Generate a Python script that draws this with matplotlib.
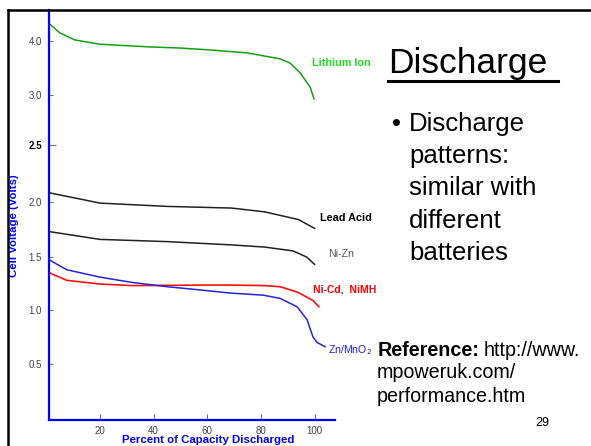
import numpy as np
import matplotlib
matplotlib.use("Agg")
import matplotlib.pyplot as plt
from matplotlib.lines import Line2D

plt.rcParams['font.family'] = ['Liberation Sans', 'DejaVu Sans']

# ---- data (percent discharged, cell volts) ----
li_pct = [1.3, 5, 10.6, 20, 38.6, 49.8, 62.1, 74.8, 87.1, 90.9, 94.6, 98.3, 99.8]
li_v = [4.31, 4.15, 4.02, 3.94, 3.89, 3.87, 3.83, 3.78, 3.67, 3.59, 3.41, 3.15, 2.96]

pb_pct = [1.3, 20, 45, 69, 81.5, 94, 100]
pb_v = [2.08, 1.99, 1.96, 1.945, 1.91, 1.84, 1.76]

nizn_pct = [1.3, 20, 45, 69, 81.5, 92, 97, 100]
nizn_v = [1.73, 1.66, 1.64, 1.61, 1.59, 1.555, 1.50, 1.43]

nicd_pct = [1.3, 7.6, 20, 32, 57, 68.5, 81.5, 87.1, 93.5, 99.4, 101.6]
nicd_v = [1.35, 1.28, 1.245, 1.23, 1.235, 1.235, 1.23, 1.22, 1.17, 1.09, 1.03]

zn_pct = [1.3, 7.6, 20, 32, 45, 57, 68.5, 80.8, 87.1, 93.5, 97.2, 99.4, 100.9, 103.9]
zn_v = [1.47, 1.38, 1.31, 1.26, 1.22, 1.19, 1.16, 1.14, 1.11, 1.03, 0.91, 0.75, 0.70, 0.66]

y_ticks = [0.5, 1.0, 1.5, 2.0, 2.5, 3.0, 4.0]
x_ticks = [20, 40, 60, 80, 100]

# the original axis is not linear above 2.5 V
knot_v = [-1.0, -0.02, 0.5, 1.0, 1.5, 2.0, 2.5, 3.0, 4.0, 4.57, 6.0]
knot_p = [-108, 0, 56, 110, 163, 218, 275, 325, 379, 410, 488]


def fwd(v):
    return np.interp(v, knot_v, knot_p)


def inv(p):
    return np.interp(p, knot_p, knot_v)


W, H = 591, 446
fig = plt.figure(figsize=(W / 100, H / 100), dpi=100)


def fx(px):
    return px / W


def fy(py):
    return 1 - py / H


# slide frame
fig.add_artist(Line2D([fx(8), fx(591)], [fy(10), fy(10)], lw=1.8, color='black'))
fig.add_artist(Line2D([fx(8), fx(8)], [fy(10), fy(446)], lw=1.8, color='black'))

ax = fig.add_axes([fx(49), fy(420), (335 - 49) / W, (420 - 10) / H])
ax.set_yscale('function', functions=(fwd, inv))
ax.set_xlim(1, 107.6)
ax.set_ylim(-0.02, 4.57)
ax.patch.set_alpha(0)

for s in ['top', 'right']:
    ax.spines[s].set_visible(False)
for s in ['left', 'bottom']:
    ax.spines[s].set_color('#0000ff')
    ax.spines[s].set_linewidth(1.6)

ax.plot(li_pct, li_v, color='#14a014', lw=1.1)
ax.plot(pb_pct, pb_v, color='#222222', lw=1.1)
ax.plot(nizn_pct, nizn_v, color='#222222', lw=1.1)
ax.plot(nicd_pct, nicd_v, color='#ff1010', lw=1.2)
ax.plot(zn_pct, zn_v, color='#2424d8', lw=1.1)

ax.set_yticks(y_ticks)
ax.set_yticklabels([f"{v:.1f}" for v in y_ticks])
ax.yaxis.set_minor_locator(matplotlib.ticker.NullLocator())
ax.tick_params(axis='y', direction='in', length=3, width=0.8, color='#777777',
               labelsize=7, labelcolor='#444444', pad=5)
for lbl, tl in zip(ax.get_yticklabels(), ax.yaxis.get_major_ticks()):
    if lbl.get_text() == '2.5':
        lbl.set_color('black')
        lbl.set_fontweight('bold')
        tl.tick1line.set_color('black')
        tl.tick1line.set_markersize(5)

ax.set_xticks(x_ticks)
ax.tick_params(axis='x', direction='in', length=4, width=0.6, color='#555555',
               labelsize=7, labelcolor='#444444', pad=4)

ax.set_xlabel('Percent of Capacity Discharged', color='#0000ff', fontsize=8.2,
              fontweight='bold')
ax.xaxis.set_label_coords(0.556, -0.036)
ax.set_ylabel('Cell Voltage (Volts)', color='#0000ff', fontsize=8.2,
              fontweight='bold')
ax.yaxis.set_label_coords(-0.105, 0.473)

# curve labels
fig.text(fx(312), fy(63), 'Lithium Ion', color='#22dd22', fontsize=7.8,
         fontweight='bold', va='center')
fig.text(fx(320), fy(218), 'Lead Acid', color='black', fontsize=7.8,
         fontweight='bold', va='center')
fig.text(fx(328), fy(254), 'Ni-Zn', color='#555555', fontsize=7.6, va='center')
fig.text(fx(313), fy(289), 'Ni-Cd,  NiMH', color='#ff0000', fontsize=7.5,
         fontweight='bold', va='center')
fig.text(fx(328), fy(350), 'Zn/MnO$_2$', color='#2020e0', fontsize=7.6, va='center')

# slide text
fig.text(fx(388), fy(63), 'Discharge', fontsize=25.5, va='center', color='black')
fig.add_artist(Line2D([fx(388), fx(558)], [fy(81), fy(81)], lw=2.2, color='black'))

fig.text(fx(392), fy(124), '\u2022', fontsize=18.5, va='center')
bullet = ['Discharge', 'patterns:', 'similar with', 'different', 'batteries']
for i, line in enumerate(bullet):
    fig.text(fx(409), fy(124 + 32.2 * i), line, fontsize=18.5, va='center')

fig.text(fx(378), fy(350), 'Reference:', fontsize=14.2, fontweight='bold', va='center')
fig.text(fx(484), fy(350), 'http://www.', fontsize=14.2, va='center')
fig.text(fx(377), fy(373), 'mpoweruk.com/', fontsize=14.2, va='center')
fig.text(fx(377), fy(397), 'performance.htm', fontsize=14.2, va='center')
fig.text(fx(535), fy(423), '29', fontsize=9, va='center')

fig.savefig('out.png', dpi=100)
